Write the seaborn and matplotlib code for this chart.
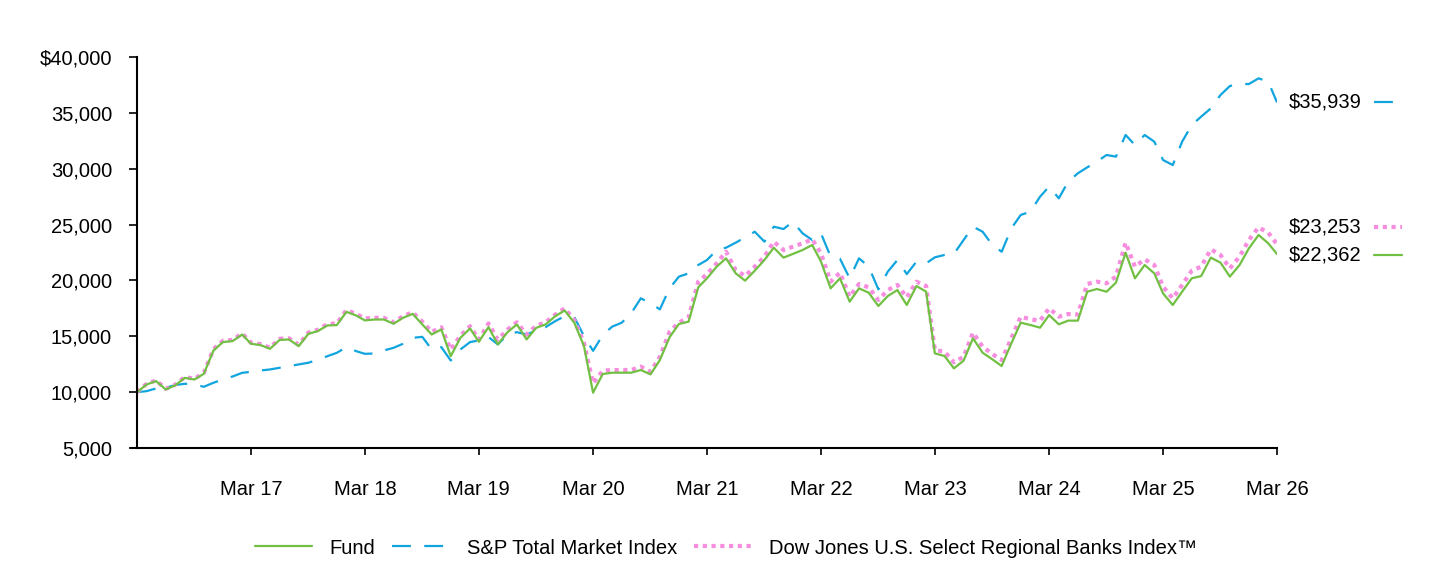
import pandas as pd
import seaborn as sns
import matplotlib.pyplot as plt
import matplotlib.dates as mdates
import matplotlib.ticker as mticker
from matplotlib.lines import Line2D

sns.set_style("white")
plt.rcParams['font.family'] = ['Liberation Sans', 'DejaVu Sans']
plt.rcParams['text.color'] = 'black'
plt.rcParams['xtick.color'] = 'black'
plt.rcParams['ytick.color'] = 'black'

# monthly values, Mar 2016 .. Mar 2026, growth of $10,000
fund = [
    10000, 10690, 10990, 10240, 10600, 11280, 11130, 11640, 13730, 14480, 14570, 15160,
    14330, 14210, 13880, 14680, 14710, 14120, 15220, 15460, 15970, 16000, 17190, 16860,
    16420, 16500, 16500, 16120, 16650, 17010, 16060, 15160, 15610, 13220, 14860, 15700,
    14510, 15820, 14270, 15370, 16060, 14720, 15760, 16060, 16800, 17310, 16210, 14120,
    9950, 11620, 11740, 11740, 11740, 11980, 11590, 12870, 14910, 16100, 16310, 19380,
    20190, 21230, 21980, 20630, 19980, 20870, 21830, 22930, 22040, 22370, 22720, 23170,
    21700, 19290, 20190, 18100, 19290, 18900, 17710, 18600, 19140, 17800, 19500, 18990,
    13470, 13230, 12130, 12820, 14820, 13530, 12940, 12340, 14370, 16220, 16010, 15770,
    16900, 16070, 16400, 16400, 18990, 19230, 18990, 19800, 22480, 20190, 21380, 20630,
    18840, 17800, 18990, 20190, 20390, 22040, 21590, 20340, 21380, 22870, 24070, 23320,
    22362]

sp_total = [
    10000, 10090, 10330, 10390, 10630, 10750, 10690, 10480, 10840, 11130, 11400, 11730,
    11820, 11940, 12030, 12180, 12330, 12480, 12630, 12900, 13220, 13520, 14030, 13670,
    13430, 13460, 13730, 13970, 14330, 14860, 14950, 13820, 14030, 12830, 13820, 14480,
    14630, 14930, 14270, 15160, 15370, 15160, 15520, 15820, 16360, 16800, 16710, 15010,
    13700, 15110, 15860, 16220, 17050, 18400, 17950, 17410, 19290, 20340, 20630, 21380,
    21830, 22720, 22930, 23380, 23860, 24360, 23470, 24810, 24600, 25260, 24220, 23620,
    24220, 22130, 21940, 20190, 21980, 21230, 19200, 20780, 21830, 20570, 21680, 21530,
    22070, 22280, 22370, 23620, 24810, 24360, 23170, 22570, 24660, 25860, 26160, 27500,
    28400, 27350, 28840, 29590, 30120, 30630, 31230, 31080, 33020, 32120, 33020, 32420,
    30780, 30330, 32420, 33910, 34660, 35400, 36600, 37400, 37580, 37580, 38090, 37790,
    35939]

regional_banks = [
    10000, 10750, 11050, 10300, 10660, 11350, 11200, 11720, 13850, 14600, 14680, 15250,
    14420, 14300, 13980, 14780, 14820, 14250, 15330, 15580, 16100, 16150, 17350, 17000,
    16600, 16650, 16650, 16250, 16800, 17150, 16300, 15400, 15800, 13820, 15050, 15900,
    14700, 16150, 14700, 15600, 16250, 15150, 15950, 16250, 16950, 17500, 16450, 14400,
    10790, 11920, 11980, 11980, 11980, 12280, 11830, 13170, 15410, 16220, 16700, 19890,
    20570, 21530, 22570, 20930, 20400, 21230, 22130, 23470, 22720, 23020, 23320, 23680,
    22430, 19890, 20700, 18540, 19680, 19380, 18250, 19140, 19590, 18490, 19890, 19500,
    13770, 13620, 12670, 13170, 15320, 14070, 13410, 12870, 14820, 16760, 16520, 16400,
    17500, 16760, 16990, 16950, 19680, 19890, 19740, 20340, 23380, 21230, 21890, 21380,
    19440, 18400, 19590, 20870, 21230, 22780, 22280, 21080, 22130, 23620, 24750, 24270,
    23253]

series_names = ["Fund", "S&P Total Market Index", "Dow Jones U.S. Select Regional Banks Index\u2122"]
dates = pd.date_range("2016-03-01", periods=len(fund), freq="MS")

GREEN = "#72C043"
BLUE = "#10A5DE"
PINK = "#F68DDF"
FS = 14.5

fig = plt.figure(figsize=(14.4, 5.64), dpi=100)
ax = fig.add_axes([137 / 1440, 1 - 448 / 564, 1140 / 1440, 391 / 564])

# draw order: S&P, regional banks, fund on top
sns.lineplot(x=dates, y=sp_total, ax=ax, color=BLUE, linewidth=1.6)
ax.lines[-1].set_dashes((8.5, 6))
sns.lineplot(x=dates, y=regional_banks, ax=ax, color=PINK, linewidth=3.0)
ax.lines[-1].set_dashes((1, 1.1))
sns.lineplot(x=dates, y=fund, ax=ax, color=GREEN, linewidth=1.6)

ax.set_xlim(dates[0], dates[-1])
ax.set_ylim(5000, 40000)
ax.yaxis.set_major_locator(mticker.MultipleLocator(5000))
ax.yaxis.set_major_formatter(mticker.FuncFormatter(
    lambda v, p: f"${v:,.0f}" if v == 40000 else f"{v:,.0f}"))
ax.xaxis.set_major_locator(mdates.MonthLocator(bymonth=3))
ax.xaxis.set_major_formatter(mdates.DateFormatter("%b %y"))
xt = [d for d in ax.get_xticks() if d > mdates.date2num(dates[0]) + 1]
ax.set_xticks(xt)

for s in ["top", "right"]:
    ax.spines[s].set_visible(False)
for s in ["left", "bottom"]:
    ax.spines[s].set_color("black")
    ax.spines[s].set_linewidth(1.5)
ax.spines["bottom"].set_bounds(mdates.date2num(dates[0]) - 18, mdates.date2num(dates[-1]))
ax.tick_params(axis="y", direction="out", length=6, width=1.2, pad=12, labelsize=FS, left=True)
ax.tick_params(axis="x", direction="out", length=5, width=1.2, pad=18, labelsize=FS, bottom=True)
ax.set_xlabel("")
ax.set_ylabel("")

# end-of-period labels with a short line key
ends = [(sp_total[-1], BLUE, (8.5, 6), 1.6, 0),
        (regional_banks[-1], PINK, (1, 1.1), 3.0, 12),
        (fund[-1], GREEN, None, 1.6, -1)]
for val, col, dash, lw, off in ends:
    ax.annotate(f"${val:,.0f}", xy=(1.0, val), xycoords=("axes fraction", "data"),
                xytext=(8.5, off), textcoords="offset points",
                ha="left", va="center", fontsize=FS, annotation_clip=False)
    ypix = ax.transData.transform((0, val))[1] + off * 100 / 72
    yfig = ypix / fig.bbox.height
    ln = Line2D([1374 / 1440, 1402 / 1440], [yfig, yfig], color=col, lw=lw,
                transform=fig.transFigure)
    if dash:
        ln.set_dashes(dash)
    fig.add_artist(ln)

handles = [Line2D([], [], color=GREEN, lw=1.6),
           Line2D([], [], color=BLUE, lw=1.6, dashes=(8.5, 6)),
           Line2D([], [], color=PINK, lw=3.0, dashes=(1, 1.1))]
fig.legend(handles, series_names, loc="center", bbox_to_anchor=(0.504, 1 - 548 / 564),
           ncol=3, frameon=False, fontsize=FS, handlelength=2.85,
           handletextpad=0.85, columnspacing=0.85)

fig.savefig("out.png", dpi=100)
